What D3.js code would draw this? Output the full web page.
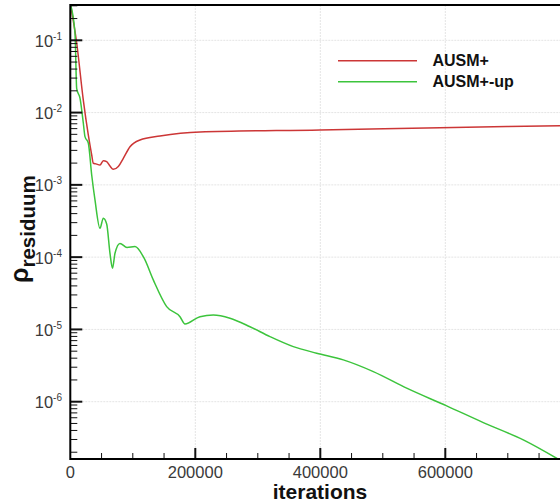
<!DOCTYPE html>
<html>
<head>
<meta charset="utf-8">
<script src="https://cdn.jsdelivr.net/npm/d3@7"></script>
<style>
  html, body { margin: 0; padding: 0; background: #fff; }
  svg { display: block; font-family: "Liberation Sans", Arial, sans-serif; }
</style>
</head>
<body>
<svg id="chart" width="560" height="504"></svg>
<script>
// Density residual history for the two flux schemes
const ausmIter = [0, 10240, 20800, 28800, 34240, 36800, 41100, 47500, 52800, 58200, 63500, 68800, 76800, 84800, 95500, 111500, 143500, 207500, 399500, 591500, 783500];
const ausmRes  = [0.32, 0.0918, 0.0149, 0.0049, 0.00259, 0.00199, 0.00195, 0.00188, 0.00216, 0.00209, 0.00182, 0.00164, 0.00179, 0.00233, 0.00337, 0.00418, 0.00474, 0.0054, 0.00574, 0.00618, 0.00659];

const upIter = [0, 7500, 10240, 15500, 20800, 23500, 28800, 34240, 39500, 47500, 52800, 58200, 63500, 67500, 71500, 79500, 90700, 103500, 117900, 132800, 154200, 175500, 183500, 207500, 228800, 255500, 287500, 319500, 356800, 394200, 436800, 484800, 538200, 602200, 660800, 724800, 780800];
const upRes  = [0.32, 0.126, 0.0215, 0.0158, 0.00718, 0.00465, 0.0038, 0.00137, 0.000618, 0.000251, 0.000345, 0.000288, 0.000113, 7.02e-5, 0.000113, 0.000155, 0.000136, 0.00014, 9.75e-5, 4.84e-5, 2.07e-5, 1.5e-5, 1.19e-5, 1.5e-5, 1.58e-5, 1.43e-5, 1.09e-5, 7.95e-6, 5.78e-6, 4.69e-6, 3.79e-6, 2.61e-6, 1.54e-6, 8.75e-7, 5.14e-7, 2.96e-7, 1.6e-7];

const seriesNames = ["AUSM+", "AUSM+-up"];
const seriesColors = ["#cc3636", "#3cc43c"];
const xTicks = [0, 200000, 400000, 600000];
const yExponents = [-1, -2, -3, -4, -5, -6];

const svg = d3.select("#chart");

// Plot frame
const frame = { left: 70.3, top: 5, bottom: 459, right: 570.3 };

const x = d3.scaleLinear().domain([0, 800000]).range([frame.left, frame.right]);
const y = d3.scaleLog().domain([1e-6, 1e-1]).range([401.7, 40.3]);

// Grid
const grid = svg.append("g").attr("stroke", "#e4e4e4").attr("stroke-width", 1).attr("stroke-dasharray", "2,1");
yExponents.forEach(e => {
  const yy = y(Math.pow(10, e));
  grid.append("line").attr("x1", frame.left).attr("x2", frame.right).attr("y1", yy).attr("y2", yy);
});
xTicks.slice(1).forEach(v => {
  grid.append("line").attr("x1", x(v)).attr("x2", x(v)).attr("y1", frame.top).attr("y2", frame.bottom);
});

// Curves
svg.append("clipPath").attr("id", "plotClip")
  .append("rect").attr("x", frame.left).attr("y", frame.top)
  .attr("width", frame.right - frame.left).attr("height", frame.bottom - frame.top);

const line = d3.line().x(d => x(d[0])).y(d => y(d[1])).curve(d3.curveMonotoneX);
const series = [
  d3.zip(ausmIter, ausmRes),
  d3.zip(upIter, upRes)
];
const curves = svg.append("g").attr("clip-path", "url(#plotClip)");
series.forEach((s, i) => {
  curves.append("path").datum(s)
    .attr("d", line)
    .attr("fill", "none")
    .attr("stroke", seriesColors[i])
    .attr("stroke-width", 1.5)
    .attr("stroke-linejoin", "round");
});

// Minor / major ticks on the y axis (inside)
const tickG = svg.append("g").attr("stroke", "#111");
for (let e = -7; e <= 0; e++) {
  for (let m = 2; m <= 9; m++) {
    const yy = y(m * Math.pow(10, e));
    if (yy < frame.top || yy > frame.bottom) continue;
    tickG.append("line").attr("x1", frame.left).attr("x2", frame.left + 7)
      .attr("y1", yy).attr("y2", yy).attr("stroke-width", 1);
  }
}
yExponents.forEach(e => {
  const yy = y(Math.pow(10, e));
  tickG.append("line").attr("x1", frame.left).attr("x2", frame.left + 12)
    .attr("y1", yy).attr("y2", yy).attr("stroke-width", 2);
});

// x ticks (inside)
for (let v = 50000; v < 800000; v += 50000) {
  if (v % 200000 === 0) continue;
  tickG.append("line").attr("x1", x(v)).attr("x2", x(v))
    .attr("y1", frame.bottom).attr("y2", frame.bottom - 6).attr("stroke-width", 1);
}
xTicks.slice(1).forEach(v => {
  tickG.append("line").attr("x1", x(v)).attr("x2", x(v))
    .attr("y1", frame.bottom).attr("y2", frame.bottom - 11).attr("stroke-width", 2);
});

// Frame
svg.append("path")
  .attr("d", `M${frame.right},${frame.top}H${frame.left}V${frame.bottom}H${frame.right}`)
  .attr("fill", "none").attr("stroke", "#000").attr("stroke-width", 2);

// y tick labels
yExponents.forEach(e => {
  const t = svg.append("text")
    .attr("x", 62).attr("y", y(Math.pow(10, e)) + 6.5)
    .attr("text-anchor", "end").attr("fill", "#3a3a3a").attr("font-size", 16.5);
  t.append("tspan").text("10");
  t.append("tspan").attr("dy", -7).attr("font-size", 10).text(String(e));
});

// x tick labels
xTicks.forEach(v => {
  svg.append("text")
    .attr("x", x(v)).attr("y", 478)
    .attr("text-anchor", "middle").attr("fill", "#3a3a3a").attr("font-size", 16.5)
    .text(String(v));
});

// Axis titles
svg.append("text")
  .attr("x", 320).attr("y", 499)
  .attr("text-anchor", "middle").attr("font-weight", "bold").attr("font-size", 21).attr("fill", "#111")
  .text("iterations");

const yt = svg.append("text")
  .attr("transform", "translate(28,283) rotate(-90)")
  .attr("font-weight", "bold").attr("fill", "#111");
yt.append("tspan").attr("font-size", 25).text("ρ");
yt.append("tspan").attr("font-size", 20.5).attr("dy", 7).text("residuum");

// Legend
const legend = svg.append("g");
seriesNames.forEach((name, i) => {
  const ly = 60.7 + i * 21;
  legend.append("line")
    .attr("x1", 338).attr("x2", 417).attr("y1", ly).attr("y2", ly)
    .attr("stroke", seriesColors[i]).attr("stroke-width", 1.5);
  legend.append("text")
    .attr("x", 432.5).attr("y", ly + 5.5)
    .attr("font-weight", "bold").attr("font-size", 16).attr("fill", "#111")
    .text(name);
});
</script>
</body>
</html>
